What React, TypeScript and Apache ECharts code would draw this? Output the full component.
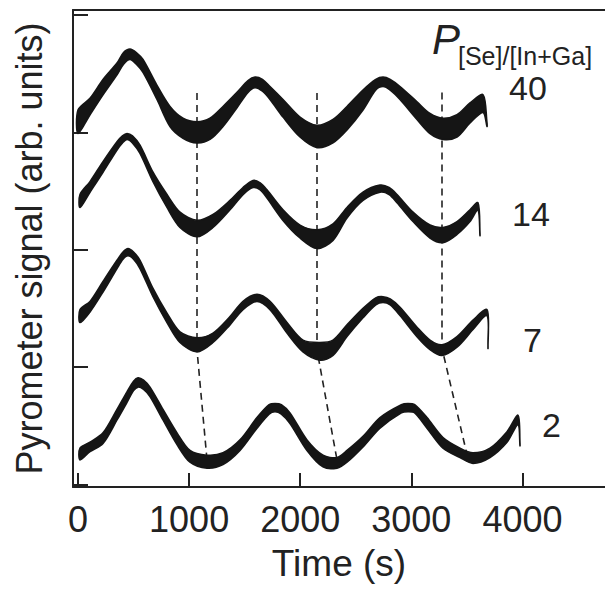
import React, { useEffect, useRef } from "react";
import * as echarts from "echarts";

// ---- axis ticks ----
const xTicks = [0, 1000, 2000, 3000, 4000];
const yTicks = [0, 1, 2, 3, 4];

// ---- P[Se]/[In+Ga] = 40 (upper / lower edge of the noisy trace) ----
const t40 = [0, 108, 225, 351, 410, 468, 525, 585, 711, 828, 945, 1071, 1188, 1305, 1431, 1530, 1593, 1660, 1728, 1845, 1998, 2151, 2295, 2421, 2565, 2680, 2745, 2810, 2898, 3051, 3168, 3285, 3411, 3528, 3645, 3681];
const hi40 = [3.19, 3.29, 3.45, 3.59, 3.68, 3.71, 3.68, 3.62, 3.40, 3.22, 3.12, 3.09, 3.12, 3.22, 3.34, 3.44, 3.47, 3.45, 3.39, 3.28, 3.13, 3.06, 3.11, 3.22, 3.36, 3.45, 3.47, 3.45, 3.39, 3.26, 3.16, 3.12, 3.15, 3.25, 3.32, 3.08];
const lo40 = [2.99, 3.15, 3.32, 3.49, 3.58, 3.62, 3.58, 3.51, 3.28, 3.05, 2.95, 2.91, 2.94, 3.05, 3.21, 3.34, 3.38, 3.35, 3.28, 3.13, 2.96, 2.87, 2.91, 3.02, 3.19, 3.36, 3.39, 3.36, 3.28, 3.11, 2.99, 2.94, 2.96, 3.08, 3.17, 3.05];

// ---- 14 ----
const t14 = [18, 108, 225, 351, 400, 441, 490, 558, 675, 801, 918, 1071, 1215, 1368, 1485, 1575, 1640, 1701, 1845, 1998, 2151, 2295, 2421, 2565, 2718, 2800, 2871, 3015, 3168, 3285, 3411, 3528, 3600, 3618];
const hi14 = [2.47, 2.58, 2.75, 2.92, 2.97, 2.99, 2.97, 2.89, 2.66, 2.47, 2.32, 2.25, 2.30, 2.42, 2.53, 2.59, 2.57, 2.51, 2.34, 2.21, 2.17, 2.22, 2.36, 2.49, 2.55, 2.53, 2.47, 2.32, 2.21, 2.19, 2.24, 2.34, 2.40, 2.14];
const lo14 = [2.36, 2.49, 2.66, 2.85, 2.91, 2.94, 2.91, 2.82, 2.58, 2.36, 2.19, 2.11, 2.19, 2.34, 2.47, 2.53, 2.51, 2.44, 2.25, 2.10, 2.01, 2.08, 2.27, 2.42, 2.49, 2.47, 2.40, 2.24, 2.10, 2.06, 2.13, 2.24, 2.34, 2.12];

// ---- 7 ----
const t7 = [18, 108, 225, 351, 405, 450, 500, 558, 675, 801, 918, 1071, 1215, 1368, 1485, 1611, 1728, 1881, 2025, 2178, 2295, 2421, 2565, 2680, 2745, 2810, 2898, 3051, 3168, 3276, 3411, 3555, 3681, 3690];
const hi7 = [1.49, 1.56, 1.73, 1.91, 1.98, 2.01, 1.98, 1.91, 1.67, 1.46, 1.30, 1.25, 1.29, 1.43, 1.56, 1.62, 1.56, 1.38, 1.23, 1.21, 1.23, 1.36, 1.50, 1.59, 1.60, 1.58, 1.51, 1.34, 1.23, 1.19, 1.26, 1.40, 1.49, 1.19];
const lo7 = [1.38, 1.47, 1.64, 1.84, 1.92, 1.95, 1.92, 1.84, 1.60, 1.38, 1.21, 1.13, 1.21, 1.36, 1.49, 1.56, 1.49, 1.29, 1.13, 1.06, 1.10, 1.26, 1.42, 1.53, 1.55, 1.53, 1.44, 1.26, 1.15, 1.10, 1.17, 1.32, 1.44, 1.16];

// ---- 2 ----
const t2 = [18, 108, 225, 351, 441, 500, 540, 590, 648, 765, 891, 1008, 1161, 1305, 1458, 1611, 1720, 1773, 1830, 1908, 2061, 2205, 2331, 2421, 2565, 2718, 2910, 2970, 3030, 3141, 3285, 3438, 3555, 3708, 3861, 3960, 3978];
const hi2 = [0.31, 0.36, 0.44, 0.64, 0.79, 0.88, 0.91, 0.89, 0.83, 0.64, 0.44, 0.29, 0.25, 0.27, 0.38, 0.57, 0.68, 0.69, 0.68, 0.61, 0.38, 0.25, 0.23, 0.29, 0.41, 0.57, 0.68, 0.69, 0.68, 0.57, 0.40, 0.31, 0.27, 0.31, 0.45, 0.59, 0.35];
const lo2 = [0.21, 0.28, 0.35, 0.55, 0.70, 0.80, 0.83, 0.81, 0.75, 0.55, 0.34, 0.19, 0.14, 0.17, 0.29, 0.48, 0.60, 0.62, 0.60, 0.52, 0.29, 0.15, 0.14, 0.19, 0.32, 0.48, 0.61, 0.62, 0.61, 0.48, 0.31, 0.23, 0.18, 0.23, 0.36, 0.51, 0.33];

// ---- dashed guide lines through the minima ----
const g1T = [1071, 1071, 1161];
const g1V = [3.335, 1.146, 0.21];
const g2T = [2151, 2151, 2331];
const g2V = [3.335, 1.146, 0.21];
const g3T = [3276, 3276, 3500];
const g3V = [3.34, 1.16, 0.26];

const curveLabels = ["40", "14", "7", "2"];

const FONT = '"Liberation Sans", Arial, Helvetica, sans-serif';
const INK = "#151515";
const TXT = "#222";

// noisy trace drawn as a filled band between its upper and lower edge
function band(t: number[], hi: number[], lo: number[]) {
  return {
    type: "custom",
    coordinateSystem: "cartesian2d",
    data: [[t[0], lo[0]]],
    silent: true,
    clip: true,
    z: 3,
    renderItem: (_params: any, api: any) => {
      const top = t.map((x, i) => api.coord([x, hi[i]]));
      const bot = t.map((x, i) => api.coord([x, lo[i]])).reverse();
      return {
        type: "group",
        children: [
          {
            type: "polygon",
            shape: { points: top.concat(bot), smooth: 0.3 },
            style: { fill: INK, stroke: INK, lineWidth: 1.6, lineJoin: "round" },
          },
        ],
      };
    },
  };
}

function guide(t: number[], v: number[]) {
  return {
    type: "line",
    data: t.map((x, i) => [x, v[i]]),
    symbol: "none",
    silent: true,
    lineStyle: { color: TXT, width: 1.6, type: [7, 5] },
    z: 2,
  };
}

export default function App() {
  const ref = useRef<HTMLDivElement>(null);
  useEffect(() => {
    if (!ref.current) return;
    const chart = echarts.init(ref.current, undefined, { renderer: "svg" });
    const xMin = -45;
    const xMax = 4743;
    chart.setOption({
      animation: false,
      backgroundColor: "#fff",
      grid: { left: 73, right: 0, top: 10, bottom: 103, containLabel: false, outerBoundsMode: "none" },
      xAxis: [
        {
          type: "value",
          min: xMin,
          max: xMax,
          position: "bottom",
          axisLine: { show: true, onZero: false, lineStyle: { color: TXT, width: 2 } },
          axisTick: { show: true, inside: true, length: 14, customValues: xTicks, lineStyle: { color: TXT, width: 2 } },
          axisLabel: { customValues: xTicks, formatter: (v: number) => String(v), fontSize: 36, color: TXT, fontFamily: FONT, margin: 14 },
          splitLine: { show: false },
          name: "Time (s)",
          nameLocation: "middle",
          nameGap: 58,
          nameTextStyle: { fontSize: 37, color: TXT, fontFamily: FONT },
        },
        {
          type: "value",
          min: xMin,
          max: xMax,
          position: "top",
          axisLine: { show: true, onZero: false, lineStyle: { color: TXT, width: 2 } },
          axisTick: { show: false },
          axisLabel: { show: false },
          splitLine: { show: false },
        },
      ],
      yAxis: {
        type: "value",
        min: -0.021,
        max: 4.042,
        axisLine: { show: true, onZero: false, lineStyle: { color: TXT, width: 2 } },
        axisTick: { show: true, inside: true, length: 15, customValues: yTicks, lineStyle: { color: TXT, width: 2 } },
        axisLabel: { show: false },
        splitLine: { show: false },
        name: "Pyrometer signal (arb. units)",
        nameLocation: "middle",
        nameGap: 26,
        nameTextStyle: { fontSize: 36, color: TXT, fontFamily: FONT },
      },
      series: [
        band(t40, hi40, lo40),
        band(t14, hi14, lo14),
        band(t7, hi7, lo7),
        band(t2, hi2, lo2),
        guide(g1T, g1V),
        guide(g2T, g2V),
        guide(g3T, g3V),
      ],
      graphic: [
        { type: "text", x: 432, y: 39, style: { text: "P", font: `italic 42px ${FONT}`, fill: TXT, align: "left", verticalAlign: "middle" } },
        { type: "text", x: 458, y: 56, style: { text: "[Se]/[In+Ga]", font: `25px ${FONT}`, fill: TXT, align: "left", verticalAlign: "middle" } },
        { type: "text", x: 509, y: 88, style: { text: curveLabels[0], font: `34px ${FONT}`, fill: TXT, align: "left", verticalAlign: "middle" } },
        { type: "text", x: 512, y: 214, style: { text: curveLabels[1], font: `34px ${FONT}`, fill: TXT, align: "left", verticalAlign: "middle" } },
        { type: "text", x: 523, y: 340, style: { text: curveLabels[2], font: `34px ${FONT}`, fill: TXT, align: "left", verticalAlign: "middle" } },
        { type: "text", x: 542, y: 425, style: { text: curveLabels[3], font: `34px ${FONT}`, fill: TXT, align: "left", verticalAlign: "middle" } },
      ],
    });
    return () => chart.dispose();
  }, []);
  return <div ref={ref} style={{ position: "absolute", left: 0, top: 0, width: 605, height: 590 }} />;
}
